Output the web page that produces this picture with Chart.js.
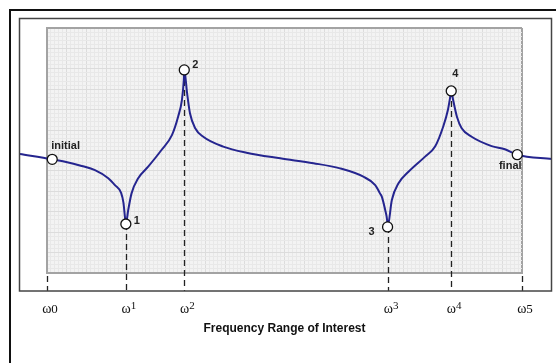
<!DOCTYPE html>
<html>
<head>
<meta charset="utf-8">
<script src="https://cdn.jsdelivr.net/npm/chart.js@4/dist/chart.umd.min.js"></script>
<style>
  html, body { margin: 0; padding: 0; background: #fff; }
  #freqChart { display: block; }
</style>
</head>
<body>
<canvas id="freqChart" width="556" height="363"></canvas>
<script>
// Frequency response sketch
// x: 0 = omega0, 100 = omega5 ; y: 0 = bottom of the grid, 100 = top of it

const curveX = [-5.7, 1.1, 3.8, 7.3, 10.1, 12.9, 14.3, 15.6, 16.1, 16.4, 16.6,
    17.1, 17.8, 19.2, 21.3, 24.1, 26.3, 27.6, 28.4, 28.8, 28.9,
    29.5, 30.1, 31.2, 32.9, 37.1, 42.0, 49.1, 56.1, 61.7, 66.6, 69.1, 70.1, 70.5, 71.2, 71.6, 71.7,
    72.6, 74.0, 76.1, 79.6, 81.7, 83.4, 84.4, 84.9, 85.1,
    85.5, 86.3, 87.3, 89.4, 93.6, 96.4, 99.0, 106.3];
const curveY = [48.6, 46.4, 45.4, 43.7, 42.0, 38.7, 35.9, 32.7, 28.6, 23.0, 20.0,
    25.7, 32.5, 38.7, 43.4, 50.2, 56.3, 63.8, 70.6, 78.8, 82.9,
    73.3, 65.2, 59.1, 55.6, 51.6, 49.1, 46.8, 44.8, 42.7, 39.3, 35.9, 32.5, 31.1, 25.7, 21.6, 18.8,
    29.8, 36.6, 41.3, 47.5, 51.6, 59.7, 66.5, 72.0, 74.3,
    70.6, 63.8, 59.1, 55.6, 51.8, 50.5, 48.3, 46.5];

const markerX = [1.1, 16.6, 28.9, 71.7, 85.1, 99.0];
const markerY = [46.4, 20.0, 82.9, 18.8, 74.3, 48.3];
const markerLabels = ['initial', '1', '2', '3', '4', 'final'];

const tickValues = [0, 16.6, 28.9, 71.8, 85.1, 100];
const tickLabels = ['ω0', 'ω¹', 'ω²', 'ω³', 'ω⁴', 'ω5'];

const axisTitle = 'Frequency Range of Interest';

// label placement next to each marker: [dx, dy, align]
const labelPlacement = [[-1, -13, 'left'], [8, -3, 'left'], [8, -5, 'left'],
    [-13, 5, 'right'], [4, -17, 'center'], [-7, 11, 'center']];

const sansFont = '"Liberation Sans", Arial, sans-serif';
const serifFont = '"Liberation Serif", "Times New Roman", serif';
const superDigits = { '⁰': '0', '¹': '1', '²': '2', '³': '3', '⁴': '4', '⁵': '5' };

function makeGridTicks(count) {
    return function (scale) {
        const ticks = [];
        for (let i = 0; i <= count; i++) ticks.push({ value: i * 100 / count });
        scale.ticks = ticks;
    };
}

function gridColor(ctx) {
    const v = ctx.tick ? ctx.tick.value : 0;
    if (v >= 99.99) return '#a3a3a3';
    return ctx.index % 5 === 0 ? '#dcdcdc' : '#e8e8e8';
}

function gridWidth(ctx) {
    const v = ctx.tick ? ctx.tick.value : 0;
    return v >= 99.99 ? 2 : 1;
}

// omega with a raised digit when the label uses a superscript character
function drawOmegaLabel(ctx, text, cx, baseline) {
    const head = text.charAt(0);
    const tail = text.slice(1);
    const raised = superDigits[tail] !== undefined;
    const digit = raised ? superDigits[tail] : tail;
    ctx.font = '14px ' + serifFont;
    const wHead = ctx.measureText(head).width;
    ctx.font = (raised ? '11px ' : '13px ') + serifFont;
    const wTail = ctx.measureText(digit).width;
    let x = cx - (wHead + wTail) / 2;
    ctx.textAlign = 'left';
    ctx.font = '14px ' + serifFont;
    ctx.fillText(head, x, baseline);
    ctx.font = (raised ? '11px ' : '13px ') + serifFont;
    ctx.fillText(digit, x + wHead, raised ? baseline - 4 : baseline);
}

const decorPlugin = {
    id: 'decor',
    beforeDraw(chart) {
        const { ctx, chartArea: a } = chart;
        ctx.save();
        ctx.fillStyle = '#f3f3f3';
        ctx.fillRect(a.left, a.top, a.right - a.left, a.bottom - a.top);
        ctx.restore();
    },
    beforeDatasetsDraw(chart) {
        const { ctx, chartArea: a, scales } = chart;
        const frameBottom = a.bottom + 18;
        ctx.save();
        ctx.strokeStyle = '#222';
        ctx.lineWidth = 1.3;
        ctx.setLineDash([6, 4]);
        tickValues.forEach(function (v, i) {
            const x = Math.round(scales.x.getPixelForValue(v)) + 0.5;
            const top = (i > 0 && i < tickValues.length - 1)
                ? scales.y.getPixelForValue(markerY[i]) : a.bottom + 3;
            ctx.beginPath();
            ctx.moveTo(x, top);
            ctx.lineTo(x, frameBottom);
            ctx.stroke();
        });
        ctx.restore();
    },
    afterDatasetsDraw(chart) {
        const { ctx, scales } = chart;
        ctx.save();
        ctx.fillStyle = '#222';
        ctx.font = 'bold 11px ' + sansFont;
        ctx.textBaseline = 'middle';
        markerLabels.forEach(function (lbl, i) {
            const p = labelPlacement[i];
            ctx.textAlign = p[2];
            ctx.fillText(lbl, scales.x.getPixelForValue(markerX[i]) + p[0],
                scales.y.getPixelForValue(markerY[i]) + p[1]);
        });
        ctx.restore();
    },
    afterDraw(chart) {
        const { ctx, chartArea: a, scales } = chart;
        ctx.save();
        // outer and inner frames
        ctx.strokeStyle = '#111';
        ctx.lineWidth = 2;
        ctx.strokeRect(10, 10, chart.width + 20, chart.height + 20);
        ctx.strokeStyle = '#444';
        ctx.lineWidth = 1.5;
        ctx.strokeRect(19.5, 18.5, 532, a.bottom + 18 - 18.5);

        // tick labels
        ctx.fillStyle = '#111';
        ctx.textBaseline = 'alphabetic';
        tickValues.forEach(function (v, i) {
            drawOmegaLabel(ctx, tickLabels[i], scales.x.getPixelForValue(v) + 3, a.bottom + 40);
        });

        // axis title
        ctx.font = 'bold 12px ' + sansFont;
        ctx.textAlign = 'center';
        ctx.textBaseline = 'middle';
        ctx.fillText(axisTitle, (a.left + a.right) / 2, a.bottom + 56);
        ctx.restore();
    }
};

const curvePoints = curveX.map(function (x, i) { return { x: x, y: curveY[i] }; });
const markerPoints = markerX.map(function (x, i) { return { x: x, y: markerY[i] }; });

new Chart(document.getElementById('freqChart'), {
    type: 'line',
    data: {
        datasets: [
            {
                label: 'markers',
                data: markerPoints,
                showLine: false,
                pointRadius: 5,
                pointBackgroundColor: '#ffffff',
                pointBorderColor: '#111111',
                pointBorderWidth: 1.3,
                clip: false,
                order: 0
            },
            {
                label: 'response',
                data: curvePoints,
                borderColor: '#25258f',
                borderWidth: 2,
                pointRadius: 0,
                cubicInterpolationMode: 'monotone',
                fill: false,
                clip: false,
                order: 1
            }
        ]
    },
    options: {
        responsive: false,
        animation: false,
        layout: { padding: { left: 47, right: 34, top: 28, bottom: 90 } },
        plugins: {
            legend: { display: false },
            tooltip: { enabled: false }
        },
        scales: {
            x: {
                type: 'linear',
                min: 0,
                max: 100,
                afterBuildTicks: makeGridTicks(120),
                ticks: { display: false },
                grid: { color: gridColor, lineWidth: gridWidth, drawTicks: false },
                border: { display: true, color: '#a3a3a3', width: 2 }
            },
            y: {
                type: 'linear',
                min: 0,
                max: 100,
                afterBuildTicks: makeGridTicks(60),
                ticks: { display: false },
                grid: { color: gridColor, lineWidth: gridWidth, drawTicks: false },
                border: { display: true, color: '#a3a3a3', width: 2 }
            }
        }
    },
    plugins: [decorPlugin]
});
</script>
</body>
</html>
